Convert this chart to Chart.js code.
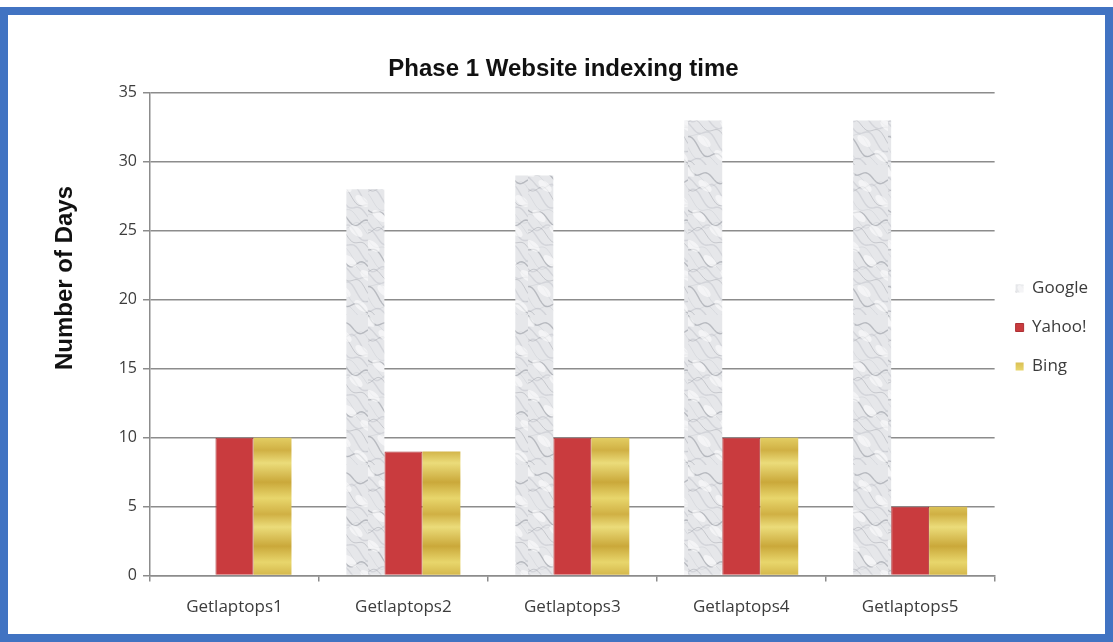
<!DOCTYPE html>
<html>
<head>
<meta charset="utf-8">
<script src="https://cdn.jsdelivr.net/npm/chart.js@4.4.1/dist/chart.umd.min.js"></script>
<style>
    html, body { margin: 0; padding: 0; background: #ffffff; }
    #frame {
        position: absolute; left: 0; top: 7px;
        width: 1113px; height: 635px;
        box-sizing: border-box;
        border: 8px solid #4173c2;
        background: #ffffff;
    }
    canvas { display: block; }
</style>
</head>
<body>
<div id="frame"><canvas id="myChart" width="1097" height="619"></canvas></div>
<script>
const categories = ['Getlaptops1', 'Getlaptops2', 'Getlaptops3', 'Getlaptops4', 'Getlaptops5'];
const googleDays = [0, 28, 29, 33, 33];
const yahooDays = [10, 9, 10, 10, 5];
const bingDays = [10, 9, 10, 10, 5];
const yTitle = 'Number of Days';

// grey marble look for the Google bars
function marblePattern(ctx) {
    const c = document.createElement('canvas');
    c.width = 40;
    c.height = 150;
    const g = c.getContext('2d');
    g.fillStyle = '#e6e7ea';
    g.fillRect(0, 0, c.width, c.height);
    for (let i = 0; i < 22; i++) {
        g.beginPath();
        for (let x = 0; x <= 40; x += 2) {
            const y = i * 7 + 4 * Math.sin(x / 4 + i * 2.3) + 3 * Math.sin(x / 9 + i) + x * 0.5;
            if (x === 0) g.moveTo(x, y); else g.lineTo(x, y);
        }
        g.strokeStyle = i % 3 === 0 ? 'rgba(115,120,130,0.4)' : 'rgba(160,165,175,0.28)';
        g.lineWidth = i % 2 === 0 ? 1.4 : 0.7;
        g.stroke();
    }
    for (let i = 0; i < 10; i++) {
        g.beginPath();
        g.ellipse((i * 17) % 40, i * 15 + 6, 8, 4, 0.7, 0, Math.PI * 2);
        g.fillStyle = 'rgba(255,255,255,0.55)';
        g.fill();
    }
    return ctx.createPattern(c, 'repeat');
}

// banded gold for the Bing bars
function goldPattern(ctx) {
    const c = document.createElement('canvas');
    c.width = 4;
    c.height = 64;
    const g = c.getContext('2d');
    const grad = g.createLinearGradient(0, 0, 0, 64);
    grad.addColorStop(0, '#ebdc7a');
    grad.addColorStop(0.3, '#caa83a');
    grad.addColorStop(0.55, '#e8d66c');
    grad.addColorStop(0.8, '#d0b044');
    grad.addColorStop(1, '#ebdc7a');
    g.fillStyle = grad;
    g.fillRect(0, 0, 4, 64);
    return ctx.createPattern(c, 'repeat');
}

const nudgeLegend = {
    id: 'nudgeLegend',
    afterLayout(chart) {
        const l = chart.legend;
        l.left -= 1; l.right -= 1;
        l.top -= 6; l.bottom -= 6;
    }
};

// y axis title sits above the middle of the axis in the original
const sideTitle = {
    id: 'sideTitle',
    afterDraw(chart) {
        const c = chart.ctx;
        c.save();
        c.translate(57, 263);
        c.rotate(-Math.PI / 2);
        c.font = 'bold 24px "Liberation Sans", Arial';
        c.fillStyle = '#111111';
        c.textAlign = 'center';
        c.textBaseline = 'middle';
        c.fillText(yTitle, 0, 0);
        c.restore();
    }
};

const ctx = document.getElementById('myChart').getContext('2d');
const gridGrey = '#8c8c8c';
const textGrey = '#3c3c3c';

new Chart(ctx, {
    type: 'bar',
    data: {
        labels: categories,
        datasets: [{
            label: 'Google',
            data: googleDays,
            backgroundColor: marblePattern(ctx),
            borderWidth: 0
        }, {
            label: 'Yahoo!',
            data: yahooDays,
            backgroundColor: '#c93b3e',
            borderColor: '#ad3034',
            borderWidth: 1
        }, {
            label: 'Bing',
            data: bingDays,
            backgroundColor: goldPattern(ctx),
            borderWidth: 0
        }]
    },
    options: {
        responsive: false,
        devicePixelRatio: 1,
        animation: false,
        layout: { padding: { top: 20, left: 20, right: 6, bottom: 2 } },
        datasets: { bar: { categoryPercentage: 0.675, barPercentage: 1.0 } },
        plugins: {
            title: {
                display: true,
                text: 'Phase 1 Website indexing time',
                color: '#111111',
                font: { family: 'Liberation Sans, Arial', size: 24, weight: 'bold' },
                padding: { top: 20, bottom: 9 }
            },
            legend: {
                position: 'right',
                labels: {
                    boxWidth: 8,
                    boxHeight: 8,
                    padding: 22,
                    color: textGrey,
                    font: { family: 'Open Sans', size: 17 }
                }
            },
            tooltip: { enabled: false }
        },
        scales: {
            x: {
                grid: { drawOnChartArea: false, tickLength: 6, color: gridGrey, lineWidth: 1.5 },
                border: { color: gridGrey, width: 1.5 },
                ticks: { color: textGrey, padding: 15, font: { family: 'Open Sans', size: 17 } }
            },
            y: {
                min: 0,
                max: 35,
                afterFit(scale) { scale.width = 122; },
                ticks: { stepSize: 5, color: textGrey, padding: 6, font: { family: 'Open Sans', size: 16 } },
                grid: { color: gridGrey, lineWidth: 1.5, tickLength: 7 },
                border: { color: gridGrey, width: 1.5 }
            }
        }
    },
    plugins: [nudgeLegend, sideTitle]
});
</script>
</body>
</html>
